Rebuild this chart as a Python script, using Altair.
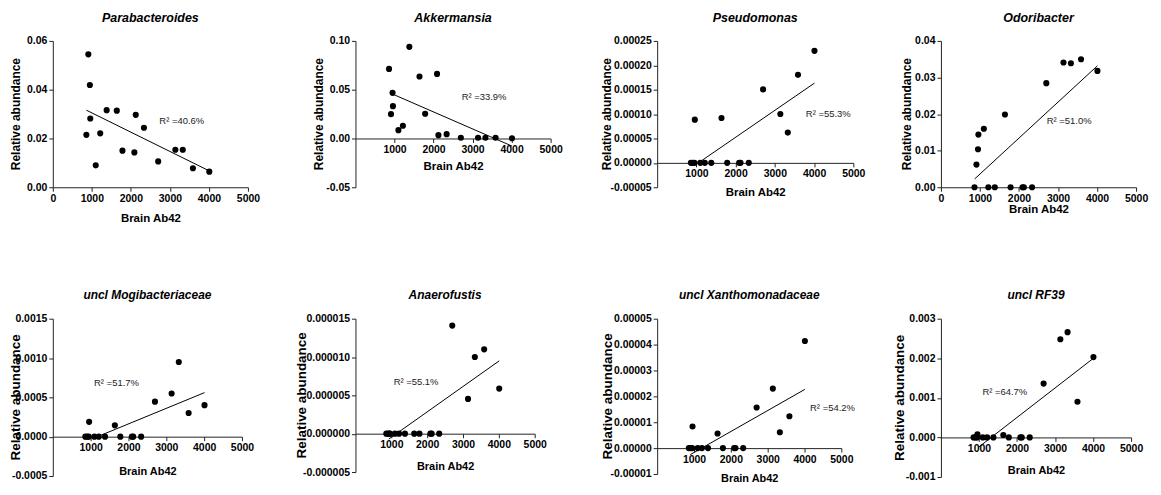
import altair as alt
import pandas as pd

# ---------------- data ----------------
brain_ab42 = [860, 910, 950, 960, 1100, 1215, 1380, 1640, 1785, 2090, 2125, 2335, 2700, 3140, 3330, 3590, 4010]

genera = ["Parabacteroides", "Akkermansia", "Pseudomonas", "Odoribacter",
          "uncl Mogibacteriaceae", "Anaerofustis", "uncl Xanthomonadaceae", "uncl RF39"]

parabacteroides = [0.0215, 0.0545, 0.0419, 0.0282, 0.0090, 0.0221, 0.0316, 0.0314, 0.0150,
                   0.0143, 0.0297, 0.0244, 0.0106, 0.0154, 0.0154, 0.0078, 0.0064]
akkermansia = [0.0713, 0.0249, 0.0468, 0.0331, 0.0085, 0.0130, 0.0939, 0.0635, 0.0253,
               0.0662, 0.0034, 0.0044, 0.0008, 0.0008, 0.0008, 0.0008, 0.0002]
pseudomonas = [0, 0, 0, 0.0000886, 0, 0, 0, 0.0000920, 0,
               0, 0, 0, 0.0001506, 0.0001001, 0.0000620, 0.0001805, 0.0002296]
odoribacter = [0, 0.0062, 0.0104, 0.0144, 0.0160, 0, 0, 0.0199, 0,
               0, 0, 0, 0.02845, 0.0341, 0.0339, 0.0350, 0.0318]
mogibacteriaceae = [0, 0, 0, 0.000189, 0, 0, 0, 0.000144, 0,
                    0, 0, 0, 0.000445, 0.000549, 0.000950, 0.000301, 0.000401]
anaerofustis = [0, 0, 0, 0, 0, 0, 0, 0, 0,
                0, 0, 0, 0.0000141, 0.00000454, 0.0000100, 0.0000110, 0.00000588]
xanthomonadaceae = [0, 0, 0, 0.00000835, 0, 0, 0, 0.00000565, 0,
                    0, 0, 0, 0.0000157, 0.0000230, 0.00000614, 0.0000123, 0.0000414]
rf39 = [0, 0, 0, 0.00008, 0, 0, 0, 0.00006, 0,
        0, 0, 0, 0.00136, 0.00248, 0.00266, 0.00090, 0.00203]

abundance = [parabacteroides, akkermansia, pseudomonas, odoribacter,
             mogibacteriaceae, anaerofustis, xanthomonadaceae, rf39]

# fitted line end points
fit_x0 = [860, 950, 1060, 864, 1280, 930, 900, 1000]
fit_y0 = [0.0316, 0.0455, 0.0000005, 0.00227, 0.00002, -0.0000007, -0.0000025, -0.00024]
fit_x1 = [4010, 4010, 4010, 4010, 4010, 4010, 4010, 4010]
fit_y1 = [0.0067, -0.0078, 0.0001635, 0.0332, 0.00056, 0.0000095, 0.0000227, 0.00200]

r2_labels = ["R² =40.6%", "R² =33.9%", "R² =55.3%", "R² =51.0%",
             "R² =51.7%", "R² =55.1%", "R² =54.2%", "R² =64.7%"]
r2_x = [2730, 2720, 3790, 2710, 1090, 1065, 4150, 1090]
r2_y = [0.027, 0.0427, 0.0001, 0.018, 0.00068, 0.00000675, 0.0000154, 0.00114]

y_domains = [[0, 0.06], [-0.05, 0.10], [-0.00005, 0.00025], [0, 0.04],
             [-0.0005, 0.0015], [-0.000005, 0.000015], [-0.00001, 0.00005], [-0.001, 0.003]]
y_ticks = [[0, 0.02, 0.04, 0.06],
           [-0.05, 0, 0.05, 0.10],
           [-0.00005, 0, 0.00005, 0.0001, 0.00015, 0.0002, 0.00025],
           [0, 0.01, 0.02, 0.03, 0.04],
           [-0.0005, 0, 0.0005, 0.001, 0.0015],
           [-0.000005, 0, 0.000005, 0.00001, 0.000015],
           [-0.00001, 0, 0.00001, 0.00002, 0.00003, 0.00004, 0.00005],
           [-0.001, 0, 0.001, 0.002, 0.003]]
y_formats = [".2f", ".2f", ".5f", ".2f", ".4f", ".6f", ".5f", ".3f"]
x_ticks = [0, 1000, 2000, 3000, 4000, 5000]
y_title = "Relative abundance"
x_title = "Brain Ab42"

# ---------------- layout / style ----------------
FONT = "Liberation Sans"
widths = [196, 196, 197, 196, 190, 180, 185, 191]
heights = [147, 147, 147, 147, 158, 154, 156, 159]
ytitle_x = [-37, -36.5, -50.5, -34, -37, -54, -49, -41]
xtitle_pad = [9, 6, 7, 0, 12, 10, 8, 11]
row = [0, 0, 0, 0, 1, 1, 1, 1]
gap_cols = [44, 108, 107, 88]   # widths of the empty grid columns before each panel column


def panel(i):
    lo, hi = y_domains[i]
    W, H = widths[i], heights[i]
    neg = lo < 0
    r2 = row[i]
    pts = pd.DataFrame({"x": brain_ab42, "y": abundance[i]})
    fit = pd.DataFrame({"x": [fit_x0[i], fit_x1[i]], "y": [fit_y0[i], fit_y1[i]]})
    ann = pd.DataFrame({"x": [r2_x[i]], "y": [r2_y[i]], "t": [r2_labels[i]]})
    ttl = pd.DataFrame({"t": [y_title]})
    xscale = alt.Scale(domain=[0, 5000], nice=False, zero=False)
    yscale = alt.Scale(domain=[lo, hi], nice=False, zero=False)
    xaxis = alt.Axis(
        values=x_ticks[1:] if neg else x_ticks, format="d", title=x_title, tickCount=20,
        offset=-(H * (-lo) / (hi - lo)) if neg else 0,
        titlePadding=xtitle_pad[i], titleFontSize=11 if r2 else 11.5,
        labelFlush=False, labelOverlap=False, grid=False,
    )
    yaxis = alt.Axis(
        values=y_ticks[i], tickCount=20,
        labelExpr="replace(format(datum.value, '%s'), '\u2212', '-')" % y_formats[i],
        title=None, labelOverlap=False, grid=False,
    )
    points = alt.Chart(pts).mark_circle(size=38, color="black", opacity=1).encode(
        x=alt.X("x:Q", scale=xscale, axis=xaxis),
        y=alt.Y("y:Q", scale=yscale, axis=yaxis),
    )
    line = alt.Chart(fit).mark_line(color="black", strokeWidth=1).encode(
        x=alt.X("x:Q", scale=xscale), y=alt.Y("y:Q", scale=yscale)
    )
    text = alt.Chart(ann).mark_text(
        align="left", baseline="middle", font=FONT, fontSize=9.5, color="#222"
    ).encode(x=alt.X("x:Q", scale=xscale), y=alt.Y("y:Q", scale=yscale), text="t:N")
    ytitle = alt.Chart(ttl).mark_text(
        angle=270, align="center", baseline="middle", font=FONT,
        fontSize=13.5 if r2 else 12, fontWeight="bold", color="black",
    ).encode(x=alt.value(ytitle_x[i]), y=alt.value(H / 2), text="t:N")
    return alt.layer(points, line, text, ytitle).properties(
        width=W, height=H,
        title=alt.TitleParams(
            genera[i], font=FONT, fontSize=12 if r2 else 12.5, fontWeight="bold",
            fontStyle="italic", color="black", anchor="middle", frame="group",
            offset=12 if r2 else 11,
        ),
    )


def spacer(w, h):
    return alt.Chart(pd.DataFrame({"s": [0]})).mark_point(opacity=0, size=1).encode(
        x=alt.value(0), y=alt.value(0)
    ).properties(width=w, height=h)


cells = []
for r in range(2):
    for c in range(4):
        cells.append(spacer(gap_cols[c], 147 if r == 0 else 1))
        cells.append(panel(r * 4 + c))

# fixed origin: the page (1161 x 495, 8px margin) is filled by padding
chart = alt.concat(
    *cells, columns=8, spacing={"row": 132, "column": 0}, bounds="flush", align="each"
).properties(
    autosize=alt.AutoSizeParams(type="none"),
    padding={"left": 1, "top": 32, "right": 1149, "bottom": 447},
).configure_view(stroke=None).configure_axis(
    domainColor="#222", tickColor="#222", tickSize=4, labelPadding=2,
    labelFont=FONT, labelFontSize=10.5, labelFontWeight="bold", labelColor="black",
    titleFont=FONT, titleFontWeight="bold", titleColor="black",
)

chart.save("out.html", embed_options={"renderer": "svg", "actions": False})
